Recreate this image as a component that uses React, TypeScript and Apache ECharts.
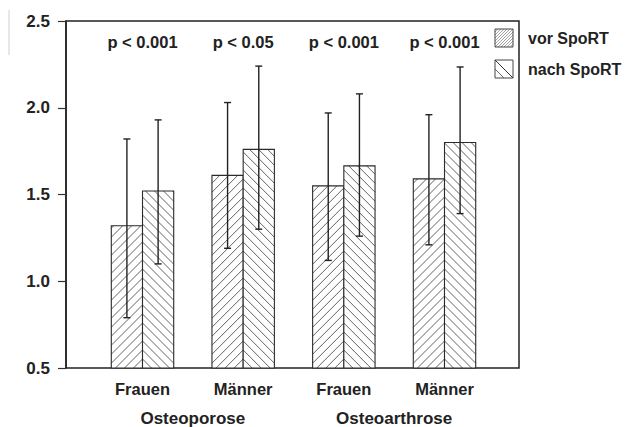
import React, { useEffect, useRef } from 'react';
import * as echarts from 'echarts';

// ---- data ----
const subgroups = ['Frauen', 'Männer', 'Frauen', 'Männer'];
const groups = ['Osteoporose', 'Osteoarthrose'];
const groupPositions = [0.5, 2.5];
const seriesNames = ['vor SpoRT', 'nach SpoRT'];
const vorMean = [1.32, 1.61, 1.55, 1.59];
const vorLow = [0.79, 1.19, 1.12, 1.21];
const vorHigh = [1.82, 2.03, 1.97, 1.96];
const nachMean = [1.52, 1.76, 1.665, 1.8];
const nachLow = [1.1, 1.3, 1.26, 1.39];
const nachHigh = [1.93, 2.24, 2.08, 2.235];
const pValues = ['p < 0.001', 'p < 0.05', 'p < 0.001', 'p < 0.001'];
const yTicks = [0.5, 1.0, 1.5, 2.0, 2.5];

const FONT = "'Liberation Sans', Arial, Helvetica, sans-serif";
const INK = '#222';
const BAR_W = 0.31; // in x-axis units

type Dir = 'up' | 'down';

function hatch(
  x0: number, y0: number, x1: number, y1: number,
  dir: Dir, step: number, ax: number, ay: number, style: any
) {
  const out: any[] = [];
  if (dir === 'up') {
    // lines x + y = c
    const A = ax + ay;
    const cmin = x0 + y0, cmax = x1 + y1;
    let k = Math.ceil((A - cmax) / step);
    for (let c = A - k * step; c > cmin; k++, c = A - k * step) {
      const xa = Math.max(x0, c - y1);
      const xb = Math.min(x1, c - y0);
      if (xb - xa > 0.4) out.push({ type: 'line', silent: true, shape: { x1: xa, y1: c - xa, x2: xb, y2: c - xb }, style });
    }
  } else {
    // lines y - x = c
    const A = ay - ax;
    const cmin = y0 - x1, cmax = y1 - x0;
    let k = Math.ceil((A - cmax) / step);
    for (let c = A - k * step; c > cmin; k++, c = A - k * step) {
      const xa = Math.max(x0, y0 - c);
      const xb = Math.min(x1, y1 - c);
      if (xb - xa > 0.4) out.push({ type: 'line', silent: true, shape: { x1: xa, y1: xa + c, x2: xb, y2: xb + c }, style });
    }
  }
  return out;
}

function barSeries(name: string, side: number, means: number[], lows: number[], highs: number[]) {
  return {
    type: 'custom',
    name,
    xAxisIndex: 0,
    yAxisIndex: 0,
    data: means.map((m, i) => [i, m, lows[i], highs[i]]),
    renderItem: (params: any, api: any) => {
      const x = api.value(0) as number;
      const mean = api.value(1) as number;
      const low = api.value(2) as number;
      const high = api.value(3) as number;
      const edge = api.coord([x, 0.5]);
      const outer = api.coord([x + side * BAR_W, mean]);
      const xe = edge[0], yb = edge[1];
      const xo = outer[0], yt = outer[1];
      const bx0 = Math.min(xe, xo), bx1 = Math.max(xe, xo);
      const cx = (bx0 + bx1) / 2;
      const yl = api.coord([x, low])[1];
      const yh = api.coord([x, high])[1];
      const hatchStyle = { stroke: '#3a3a3a', lineWidth: 0.8 };
      const lines = hatch(bx0, yt, bx1, yb, side < 0 ? 'up' : 'down', 9, xe, yb, hatchStyle);
      const capHalf = 3.5;
      const errStyle = { stroke: INK, lineWidth: 1.4 };
      return {
        type: 'group',
        children: [
          { type: 'rect', shape: { x: bx0, y: yt, width: bx1 - bx0, height: yb - yt }, style: { fill: '#fff', stroke: 'none' } },
          ...lines,
          { type: 'rect', shape: { x: bx0, y: yt, width: bx1 - bx0, height: yb - yt }, style: { fill: 'none', stroke: '#2a2a2a', lineWidth: 1.1 } },
          { type: 'line', shape: { x1: cx, y1: yh, x2: cx, y2: yl }, style: errStyle },
          { type: 'line', shape: { x1: cx - capHalf, y1: yh, x2: cx + capHalf, y2: yh }, style: errStyle },
          { type: 'line', shape: { x1: cx - capHalf, y1: yl, x2: cx + capHalf, y2: yl }, style: errStyle },
        ],
      };
    },
    z: 2,
  };
}

function legendGraphic() {
  const sq = 18;
  const lx = 495;
  const ys = [29, 60];
  const els: any[] = [];
  // vor: dense light hatching
  {
    const y0 = ys[0];
    els.push({ type: 'rect', shape: { x: lx, y: y0, width: sq, height: sq }, style: { fill: '#fff', stroke: 'none' } });
    hatch(lx, y0, lx + sq, y0 + sq, 'up', 3, lx + sq, y0 + sq, { stroke: '#8a8a8a', lineWidth: 0.8 }).forEach((l) => els.push(l));
    els.push({ type: 'rect', shape: { x: lx, y: y0, width: sq, height: sq }, style: { fill: 'none', stroke: '#444', lineWidth: 1 } });
  }
  {
    const y0 = ys[1];
    els.push({ type: 'rect', shape: { x: lx, y: y0, width: sq, height: sq }, style: { fill: '#fff', stroke: '#444', lineWidth: 1 } });
    els.push({ type: 'line', shape: { x1: lx, y1: y0, x2: lx + sq, y2: y0 + sq }, style: { stroke: '#333', lineWidth: 1 } });
    els.push({ type: 'line', shape: { x1: lx, y1: y0 + 9, x2: lx + sq - 9, y2: y0 + sq }, style: { stroke: '#555', lineWidth: 0.9 } });
  }
  seriesNames.forEach((n, i) => {
    els.push({
      type: 'text',
      x: 528,
      y: ys[i] + sq / 2,
      style: { text: n, fill: INK, font: `bold 16px ${FONT}`, textVerticalAlign: 'middle', verticalAlign: 'middle', align: 'left' },
    });
  });
  // faint scan artefact at the left edge
  els.push({ type: 'line', shape: { x1: 9, y1: 10, x2: 9, y2: 55 }, style: { stroke: '#cfcfcf', lineWidth: 1 } });
  return els;
}

export default function App() {
  const ref = useRef<HTMLDivElement>(null);
  useEffect(() => {
    if (!ref.current) return;
    const chart = echarts.init(ref.current, undefined, { renderer: 'svg' });
    const option: any = {
      animation: false,
      backgroundColor: '#fff',
      grid: {
        left: 66, right: 106, top: 21, bottom: 56,
        show: true, borderColor: INK, borderWidth: 1.5, backgroundColor: 'transparent',
      },
      xAxis: [
        {
          type: 'value', min: -0.76, max: 3.74,
          splitLine: { show: false },
          axisLine: { show: false, onZero: false },
          axisTick: { show: false },
          axisLabel: {
            customValues: [0, 1, 2, 3],
            formatter: (v: number) => subgroups[Math.round(v)] ?? '',
            color: INK, fontFamily: FONT, fontWeight: 'bold', fontSize: 16.5, margin: 12,
          },
        },
        {
          type: 'value', min: -0.76, max: 3.74, position: 'bottom', offset: 30,
          splitLine: { show: false },
          axisLine: { show: false, onZero: false },
          axisTick: { show: false },
          axisLabel: {
            customValues: groupPositions,
            formatter: (v: number) => groups[groupPositions.indexOf(v)] ?? '',
            color: INK, fontFamily: FONT, fontWeight: 'bold', fontSize: 17, margin: 12,
          },
        },
      ],
      yAxis: {
        type: 'value', min: yTicks[0], max: yTicks[yTicks.length - 1], interval: 0.5,
        splitLine: { show: false },
        axisLine: { show: true, onZero: false, lineStyle: { color: INK, width: 1.5 } },
        axisTick: { show: true, inside: false, length: 8, lineStyle: { color: '#333', width: 1.2 } },
        axisLabel: {
          formatter: (v: number) => v.toFixed(1),
          color: INK, fontFamily: FONT, fontWeight: 'bold', fontSize: 17, margin: 16,
        },
      },
      series: [
        barSeries(seriesNames[0], -1, vorMean, vorLow, vorHigh),
        barSeries(seriesNames[1], 1, nachMean, nachLow, nachHigh),
        {
          type: 'custom',
          name: 'p',
          xAxisIndex: 0,
          yAxisIndex: 0,
          data: pValues.map((_, i) => [i, 2.5]),
          renderItem: (params: any, api: any) => {
            const p = api.coord([api.value(0), api.value(1)]);
            return {
              type: 'text',
              x: p[0],
              y: p[1] + 21,
              style: {
                text: pValues[params.dataIndex], fill: INK, font: `bold 16.5px ${FONT}`,
                align: 'center', verticalAlign: 'middle',
              },
            };
          },
          z: 3,
        },
      ],
      graphic: legendGraphic(),
    };
    chart.setOption(option);
    return () => chart.dispose();
  }, []);
  return <div ref={ref} style={{ position: 'fixed', left: 0, top: 0, width: 625, height: 427 }} />;
}
